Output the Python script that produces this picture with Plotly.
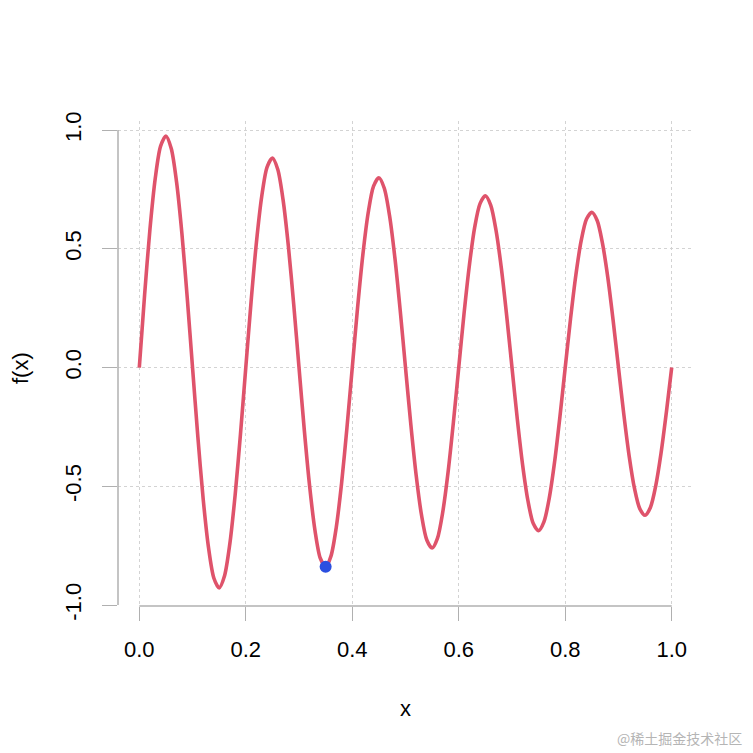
import plotly.graph_objects as go

# Values (x step 0.01)
x_vals = [i / 100 for i in range(101)]
f_vals = [
    0.000, 0.307, 0.582, 0.797, 0.932, 0.975, 0.922, 0.781, 0.565, 0.295,
    0.000, -0.292, -0.554, -0.758, -0.886, -0.928, -0.878, -0.743, -0.537, -0.281,
    0.000, 0.278, 0.527, 0.721, 0.844, 0.882, 0.835, 0.707, 0.511, 0.267,
    0.000, -0.265, -0.501, -0.686, -0.803, -0.839, -0.794, -0.672, -0.486, -0.254,
    0.000, 0.252, 0.477, 0.653, 0.764, 0.799, 0.756, 0.640, 0.463, 0.242,
    0.000, -0.239, -0.453, -0.620, -0.726, -0.760, -0.719, -0.608, -0.440, -0.230,
    0.000, 0.228, 0.431, 0.591, 0.690, 0.723, 0.684, 0.578, 0.419, 0.219,
    0.000, -0.217, -0.410, -0.561, -0.657, -0.687, -0.650, -0.550, -0.398, -0.208,
    0.000, 0.206, 0.390, 0.534, 0.625, 0.654, 0.619, 0.523, 0.379, 0.198,
    0.000, -0.196, -0.371, -0.508, -0.594, -0.622, -0.589, -0.498, -0.360, -0.188,
    0.000,
]
point_x = [0.35]
point_y = [-0.839]

x_ticks = [0.0, 0.2, 0.4, 0.6, 0.8, 1.0]
x_labels = ["0.0", "0.2", "0.4", "0.6", "0.8", "1.0"]
y_ticks = [-1.0, -0.5, 0.0, 0.5, 1.0]
y_labels = ["-1.0", "-0.5", "0.0", "0.5", "1.0"]

FONT = "Liberation Sans, Arial, sans-serif"
AXIS_GRAY = "#b0b0b0"
GRID_GRAY = "#d3d3d3"

W = 745
L, T = 110, 113
PW, PH = 575, 485
R = W - L - PW
B = W - T - PH
BOTTOM = T + PH


def px(xw):
    return (xw - 8 - L) / PW


def py(yw):
    return (BOTTOM - (yw - 8)) / PH


fig = go.Figure()
fig.add_trace(go.Scatter(x=x_vals, y=f_vals, mode="lines",
                         line=dict(color="#DF536B", width=3.6, shape="spline", smoothing=0.8),
                         hoverinfo="skip"))
fig.add_trace(go.Scatter(x=point_x, y=point_y, mode="markers",
                         marker=dict(color="#2B4FE0", size=12), hoverinfo="skip"))

fig.update_layout(
    width=W, height=W,
    margin=dict(l=L, r=R, t=T, b=B),
    paper_bgcolor="white", plot_bgcolor="white",
    showlegend=False,
    font=dict(family=FONT, size=22, color="black"),
    xaxis=dict(range=[-0.04, 1.04], tickvals=x_ticks, ticktext=x_labels,
               showgrid=True, gridcolor=GRID_GRAY, griddash="dot", gridwidth=1,
               zeroline=False, showline=False,
               ticks="outside", ticklen=14, tickcolor=AXIS_GRAY, tickwidth=1,
               ticklabelstandoff=10,
               tickfont=dict(family=FONT, size=22, color="black")),
    yaxis=dict(range=[-1.004, 1.038], tickvals=y_ticks, ticktext=y_labels,
               showgrid=True, gridcolor=GRID_GRAY, griddash="dot", gridwidth=1,
               zeroline=False, showline=False,
               ticks="outside", ticklen=15, tickcolor=AXIS_GRAY, tickwidth=1,
               tickangle=-90, ticklabelstandoff=12,
               tickfont=dict(family=FONT, size=22, color="black")),
    shapes=[
        dict(type="line", xref="x", yref="paper", x0=0, x1=1, y0=0, y1=0,
             line=dict(color=AXIS_GRAY, width=1.5)),
        dict(type="line", xref="paper", yref="y", x0=0, x1=0, y0=-1, y1=1,
             line=dict(color=AXIS_GRAY, width=1.5)),
    ],
    annotations=[
        dict(text="f(x)", xref="paper", yref="paper", x=px(20), y=py(368),
             xanchor="center", yanchor="middle", textangle=-90, showarrow=False,
             font=dict(family=FONT, size=22, color="black")),
        dict(text="x", xref="paper", yref="paper", x=px(405), y=py(708),
             xanchor="center", yanchor="middle", showarrow=False,
             font=dict(family=FONT, size=22, color="black")),
        dict(text="@稀土掘金技术社区", xref="paper", yref="paper", x=px(744),
             y=py(738), xanchor="right", yanchor="middle", showarrow=False,
             font=dict(family="Noto Sans CJK SC", size=14, color="#b5b5b5")),
    ],
)

fig.write_html("out.html")
